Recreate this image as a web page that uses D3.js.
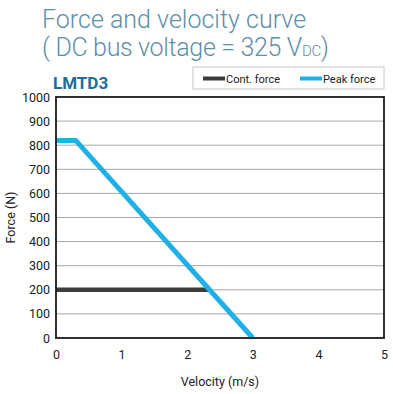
<!DOCTYPE html>
<meta charset="utf-8">
<script src="https://d3js.org/d3.v7.min.js"></script>
<style>
  body { margin: 0; background: #fff; }
  text { font-family: Roboto, "DejaVu Sans Condensed", sans-serif; }
</style>
<body>
<div id="chart"></div>
<script>
// data
var seriesNames = ["Cont. force", "Peak force"];
var seriesColors = ["#3d3b3c", "#1fb1e6"];
var contVelocity = [0, 2.35];
var contForce = [200, 200];
var peakVelocity = [0, 0.3, 3.0];
var peakForce = [820, 820, 0];
var xTicks = [0, 1, 2, 3, 4, 5];
var yTicks = [0, 100, 200, 300, 400, 500, 600, 700, 800, 900, 1000];

var W = 393, H = 394;
var margin = { top: 97, right: 9, bottom: 56, left: 56 };
var width = W - margin.left - margin.right;
var height = H - margin.top - margin.bottom;

var svg = d3.select("#chart").append("svg")
  .attr("width", W).attr("height", H);

// title
var title = svg.append("g").attr("fill", "#5e8fa9").style("font-weight", 300).style("font-size", "25px");
title.append("text").attr("x", 42).attr("y", 28).text("Force and velocity curve");
var t2 = title.append("text").attr("x", 42).attr("y", 56).attr("textLength", 287);
t2.append("tspan").text("( DC bus voltage = 325 V");
t2.append("tspan").style("font-size", "15px").text("DC");
t2.append("tspan").text(")");

svg.append("text").attr("x", 53).attr("y", 89)
  .attr("fill", "#1c6e9e").style("font-weight", 700).style("font-size", "17px")
  .text("LMTD3");

var g = svg.append("g").attr("transform", "translate(" + margin.left + "," + margin.top + ")");

var x = d3.scaleLinear().domain([0, 5]).range([0, width]);
var y = d3.scaleLinear().domain([0, 1000]).range([height, 0]);

// grid
g.append("g").selectAll("line").data(yTicks.slice(1, -1)).enter().append("line")
  .attr("x1", 0).attr("x2", width)
  .attr("y1", function(d) { return y(d); }).attr("y2", function(d) { return y(d); })
  .attr("stroke", "#a6a6a6").attr("stroke-width", 1);

// axes (labels only)
var yAxis = g.append("g").call(d3.axisLeft(y).tickValues(yTicks).tickFormat(d3.format("d")).tickSize(0).tickPadding(6));
var xAxis = g.append("g").attr("transform", "translate(0," + height + ")")
  .call(d3.axisBottom(x).tickValues(xTicks).tickFormat(d3.format("d")).tickSize(0).tickPadding(12));
[xAxis, yAxis].forEach(function(a) {
  a.select(".domain").remove();
  a.selectAll("text").style("font-size", "12.5px").attr("fill", "#222")
    .style("font-family", "Roboto, sans-serif");
});

var line = d3.line().x(function(d) { return x(d[0]); }).y(function(d) { return y(d[1]); });

g.append("path").datum(d3.zip(contVelocity, contForce))
  .attr("d", line).attr("fill", "none")
  .attr("stroke", seriesColors[0]).attr("stroke-width", 4.5);

g.append("path").datum(d3.zip(peakVelocity, peakForce))
  .attr("d", line).attr("fill", "none")
  .attr("stroke", seriesColors[1]).attr("stroke-width", 5)
  .attr("stroke-linejoin", "miter");

// plot border
g.append("rect").attr("width", width).attr("height", height)
  .attr("fill", "none").attr("stroke", "#1a1a1a").attr("stroke-width", 1.8);

// axis titles
svg.append("text").attr("x", margin.left + width / 2).attr("y", 386)
  .attr("text-anchor", "middle").style("font-size", "12.5px").attr("fill", "#222")
  .text("Velocity (m/s)");
svg.append("text").attr("transform", "translate(15," + (margin.top + height / 2) + ") rotate(-90)")
  .attr("text-anchor", "middle").style("font-size", "12.5px").attr("fill", "#222")
  .text("Force (N)");

// legend
var lg = svg.append("g").attr("transform", "translate(193,67)");
lg.append("rect").attr("width", 191).attr("height", 22)
  .attr("fill", "#fff").attr("stroke", "#c8c8c8").attr("stroke-width", 1);
var lx = [10, 107];
seriesNames.forEach(function(name, i) {
  lg.append("rect").attr("x", lx[i]).attr("y", 9.5).attr("width", 22).attr("height", 4)
    .attr("fill", seriesColors[i]);
  lg.append("text").attr("x", lx[i] + 23).attr("y", 15.5)
    .style("font-size", "11px").attr("fill", "#222").text(name);
});
</script>
</body>
